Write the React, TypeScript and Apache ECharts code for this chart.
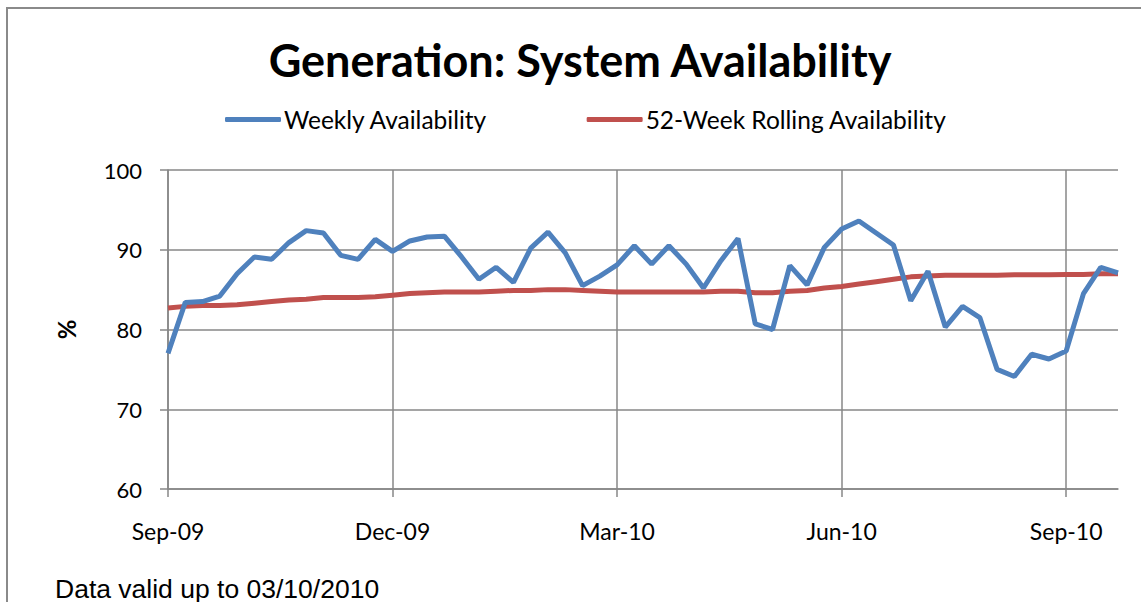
import React, { useEffect, useRef } from "react";
import * as echarts from "echarts";

const TITLE = "Generation: System Availability";
const SERIES_NAMES = ["Weekly Availability", "52-Week Rolling Availability"];
const FOOTNOTE = "Data valid up to 03/10/2010";
const START_DATE = "2009-09-13"; // first weekly data point
const WEEK_COUNT = 56;
const LABEL_INDICES = [0, 13, 26, 39, 52];
const MONTHS = ["Jan", "Feb", "Mar", "Apr", "May", "Jun", "Jul", "Aug", "Sep", "Oct", "Nov", "Dec"];

const weekly = [
  77.0, 83.4, 83.5, 84.2, 87.0, 89.1, 88.8, 90.9, 92.4, 92.1,
  89.3, 88.8, 91.3, 89.8, 91.1, 91.6, 91.7, 89.1, 86.3, 87.8,
  85.9, 90.2, 92.2, 89.6, 85.5, 86.7, 88.1, 90.5, 88.2, 90.5,
  88.2, 85.2, 88.6, 91.4, 80.7, 80.0, 88.0, 85.6, 90.3, 92.6,
  93.6, 92.1, 90.6, 83.6, 87.3, 80.3, 82.9, 81.5, 75.0, 74.1,
  76.9, 76.3, 77.3, 84.5, 87.8, 87.1,
];

const rolling = [
  82.7, 82.9, 83.0, 83.0, 83.1, 83.3, 83.5, 83.7, 83.8, 84.0,
  84.0, 84.0, 84.1, 84.3, 84.5, 84.6, 84.7, 84.7, 84.7, 84.8,
  84.9, 84.9, 85.0, 85.0, 84.9, 84.8, 84.7, 84.7, 84.7, 84.7,
  84.7, 84.7, 84.8, 84.8, 84.6, 84.6, 84.8, 84.9, 85.2, 85.4,
  85.7, 86.0, 86.3, 86.6, 86.7, 86.8, 86.8, 86.8, 86.8, 86.85,
  86.85, 86.85, 86.9, 86.9, 87.0, 87.0,
];

const Y_MIN = 60;
const Y_MAX = 100;
const Y_STEP = 10;

function buildWeeks(): string[] {
  const out: string[] = [];
  const base = new Date(START_DATE + "T00:00:00Z").getTime();
  for (let i = 0; i < WEEK_COUNT; i++) {
    const d = new Date(base + i * 7 * 86400000);
    out.push(d.toISOString().slice(0, 10));
  }
  return out;
}

function monthLabel(iso: string): string {
  const [y, m] = iso.split("-");
  return MONTHS[parseInt(m, 10) - 1] + "-" + y.slice(2);
}

export default function App() {
  const ref = useRef<HTMLDivElement>(null);

  useEffect(() => {
    if (!ref.current) return;
    const chart = echarts.init(ref.current, undefined, { renderer: "svg" });
    const weeks = buildWeeks();
    const showIdx = (i: number) => LABEL_INDICES.includes(i);
    const grey = "#878787";
    const font = "Lato, 'Open Sans', sans-serif";

    chart.setOption({
      animation: false,
      backgroundColor: "#ffffff",
      title: {
        text: TITLE,
        left: 575,
        textAlign: "center",
        top: 32,
        textStyle: { fontFamily: font, fontWeight: "bold", fontSize: 45, color: "#000" },
      },
      legend: {
        left: 220,
        top: 102,
        itemWidth: 56,
        itemHeight: 5,
        itemGap: 99,
        icon: "roundRect",
        textStyle: { fontFamily: font, fontSize: 24.5, color: "#000", padding: [0, 0, 0, -2] },
        data: SERIES_NAMES,
      },
      grid: { left: 168, right: 23, top: 170, bottom: 113, containLabel: false },
      xAxis: {
        type: "category",
        data: weeks,
        boundaryGap: false,
        axisLine: { show: true, lineStyle: { color: grey, width: 1.5 } },
        axisTick: {
          show: true,
          interval: (i: number) => showIdx(i),
          length: 8,
          lineStyle: { color: grey, width: 1.5 },
        },
        axisLabel: {
          interval: (i: number) => showIdx(i),
          formatter: (v: string) => monthLabel(v),
          margin: 30,
          fontFamily: font,
          fontSize: 23,
          color: "#000",
        },
        splitLine: {
          show: true,
          interval: (i: number) => showIdx(i),
          lineStyle: { color: grey, width: 1.5 },
        },
      },
      yAxis: {
        type: "value",
        min: Y_MIN,
        max: Y_MAX,
        interval: Y_STEP,
        name: "%",
        nameLocation: "middle",
        nameGap: 90,
        nameRotate: 90,
        nameTextStyle: { fontFamily: font, fontWeight: "bold", fontSize: 24, color: "#000" },
        axisLine: { show: true, lineStyle: { color: grey, width: 1.5 } },
        axisTick: { show: true, length: 8, lineStyle: { color: grey, width: 1.5 } },
        axisLabel: { margin: 26, fontFamily: font, fontSize: 22, color: "#000" },
        splitLine: { show: true, lineStyle: { color: grey, width: 1.5 } },
      },
      series: [
        {
          name: SERIES_NAMES[0],
          type: "line",
          data: weekly,
          symbol: "none",
          lineStyle: { color: "#4F81BD", width: 5 },
          itemStyle: { color: "#4F81BD" },
          z: 3,
        },
        {
          name: SERIES_NAMES[1],
          type: "line",
          data: rolling,
          symbol: "none",
          lineStyle: { color: "#C0504D", width: 5 },
          itemStyle: { color: "#C0504D" },
          z: 2,
        },
      ],
      graphic: [
        {
          type: "rect",
          shape: { x: 7, y: 8, width: 1300, height: 800 },
          style: { fill: "none", stroke: "#8a8a8a", lineWidth: 2 },
          silent: true,
        },
        {
          type: "text",
          left: 55,
          top: 575,
          style: {
            text: FOOTNOTE,
            fontFamily: "'Liberation Sans', Arial, sans-serif",
            fontSize: 26.5,
            fill: "#000",
          },
        },
      ],
    });

    return () => chart.dispose();
  }, []);

  return (
    <div
      ref={ref}
      style={{ position: "fixed", left: 0, top: 0, width: 1141, height: 602 }}
    />
  );
}
